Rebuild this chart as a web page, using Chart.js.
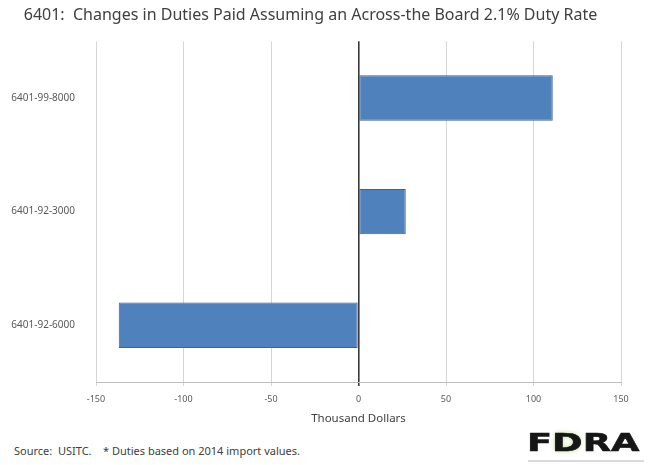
<!DOCTYPE html>
<html>
<head>
<meta charset="utf-8">
<script src="https://cdn.jsdelivr.net/npm/chart.js@4/dist/chart.umd.min.js"></script>
<style>
  html, body { margin: 0; padding: 0; background: #fff; }
  #wrap { position: relative; width: 649px; height: 465px; overflow: hidden; font-family: "Noto Sans", sans-serif; }
  #box { position: absolute; left: 0; top: 0; width: 649px; height: 430px; }
  #source { position: absolute; left: 14px; top: 443px; font-size: 11px; color: #404040; white-space: pre; }
  #logo { position: absolute; left: 527px; top: 430px; font: 900 25px "DejaVu Sans", sans-serif; color: #161616;
          transform: scaleX(1.47); transform-origin: left top; line-height: 26px; -webkit-text-stroke: 0.6px #161616; }
  #logo span { text-shadow: 0 0 4px #b9dc8c; }
  #tag { position: absolute; left: 528px; top: 460px; width: 116px; height: 2px; background: #dadada; }
</style>
</head>
<body>
<div id="wrap">
  <div id="box"><canvas id="duties"></canvas></div>
  <div id="source">Source:  USITC.    * Duties based on 2014 import values.</div>
  <div id="logo">F<span>D</span>RA</div>
  <div id="tag"></div>
</div>
<script>
// HTS lines, top to bottom
var codes = ["6401-99-8000", "6401-92-3000", "6401-92-6000"];
// change in duties paid, thousand dollars
var changes = [111, 27, -137];
var xTicks = [-150, -100, -50, 0, 50, 100, 150];

var gray = "#595959";

var ctx = document.getElementById("duties").getContext("2d");
var chart = new Chart(ctx, {
	type: "bar",
	data: {
		labels: codes,
		datasets: [{
			data: changes,
			backgroundColor: "#4F81BD",
			borderColor: "#3B6394",
			borderWidth: 1,
			borderSkipped: false,
			categoryPercentage: 1,
			barPercentage: 0.4
		}]
	},
	options: {
		indexAxis: "y",
		responsive: true,
		maintainAspectRatio: false,
		animation: false,
		layout: { padding: { left: 0, right: 28, top: 0, bottom: 0 } },
		plugins: {
			legend: { display: false },
			tooltip: { enabled: false },
			title: {
				display: true,
				text: "6401:  Changes in Duties Paid Assuming an Across-the Board 2.1% Duty Rate",
				color: "#404040",
				font: { family: "Noto Sans", size: 16, weight: "normal" },
				padding: { top: 6, bottom: 16 }
			}
		},
		scales: {
			x: {
				min: -150,
				max: 150,
				afterBuildTicks: function(s) { s.ticks = xTicks.map(v => ({ value: v })); },
				ticks: { color: gray, font: { family: "Noto Sans", size: 9 }, padding: 8 },
				grid: {
					color: c => c.tick && c.tick.value === 0 ? "#3a3a3a" : "#d6d6d6",
					lineWidth: c => c.tick && c.tick.value === 0 ? 1.6 : 1,
					tickLength: 4
				},
				border: { color: "#bdbdbd" },
				title: {
					display: true,
					text: "Thousand Dollars",
					color: "#404040",
					font: { family: "Noto Sans", size: 11.5 },
					padding: { top: 1 }
				},
				afterFit: function(s) { s.height = 48; }
			},
			y: {
				ticks: { color: gray, font: { family: "Noto Sans", size: 10 }, padding: 13 },
				grid: { display: false },
				border: { display: false },
				afterFit: function(s) { s.width = 96; }
			}
		}
	}
});
</script>
</body>
</html>
